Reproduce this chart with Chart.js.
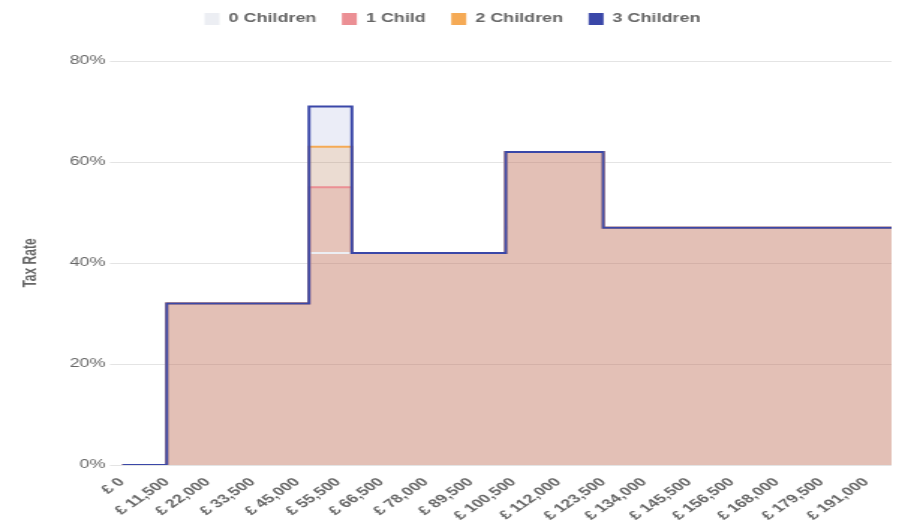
<!DOCTYPE html>
<html>
<head>
<meta charset="utf-8">
<script src="https://cdn.jsdelivr.net/npm/chart.js@4/dist/chart.umd.min.js"></script>
<style>
  html, body { margin: 0; padding: 0; background: #ffffff; overflow: hidden; }
  /* the chart is laid out on a 600px-wide canvas and shown stretched across 899px */
  #wrap { width: 600px; height: 529px; transform: scaleX(1.498333); transform-origin: 0 0; }
  #chart { display: block; }
</style>
</head>
<body>
<div id="wrap"><canvas id="chart" width="600" height="529"></canvas></div>
<script>
// Gross income at which each marginal rate starts (£)
const incomes = [0, 11500, 48000, 59000, 98500, 123500, 197500];

// Marginal tax rate (%) from each income above, by number of children
const rateNoChildren    = [0, 32, 42, 42, 62, 47, 47];
const rateOneChild      = [0, 32, 55, 42, 62, 47, 47];
const rateTwoChildren   = [0, 32, 63, 42, 62, 47, 47];
const rateThreeChildren = [0, 32, 71, 42, 62, 47, 47];

// Incomes labelled along the bottom axis
const incomeTicks = [0, 11500, 22000, 33500, 45000, 55500, 66500, 78000, 89500,
  100500, 112000, 123500, 134000, 145500, 156500, 168000, 179500, 191000];

// Rate axis ticks (%)
const rateTicks = [0, 20, 40, 60, 80];

const points = rates => incomes.map((x, i) => ({ x: x, y: rates[i] }));

// listed top-most first; the legend shows them reversed
const series = [
  { label: '3 Children', rates: rateThreeChildren, line: '#3a47a8', fill: 'rgba(63,81,181,0.10)' },
  { label: '2 Children', rates: rateTwoChildren,   line: '#f5aa55', fill: 'rgba(255,160,50,0.20)' },
  { label: '1 Child',    rates: rateOneChild,      line: '#eb8f94', fill: 'rgba(225,100,100,0.22)' },
  { label: '0 Children', rates: rateNoChildren,    line: '#eceef3', fill: 'rgba(190,180,175,0.08)' }
];

const textColor = '#666666';
const family = '"Liberation Sans", Arial, sans-serif';

// extra room between the legend and the plot
const legendGap = {
  id: 'legendGap',
  beforeInit(chart) {
    const fit = chart.legend.fit;
    chart.legend.fit = function () { fit.call(this); this.height += 26; };
  }
};

new Chart(document.getElementById('chart'), {
  type: 'line',
  data: {
    datasets: series.map(s => ({
      label: s.label,
      data: points(s.rates),
      stepped: true,
      borderColor: s.line,
      backgroundColor: s.fill,
      borderWidth: 2,
      pointRadius: 0,
      fill: 'origin'
    }))
  },
  plugins: [legendGap],
  options: {
    responsive: false,
    animation: false,
    layout: { padding: { left: 9, right: 5, top: -4, bottom: 0 } },
    plugins: {
      filler: { drawTime: 'beforeDatasetsDraw' },
      tooltip: { enabled: false },
      legend: {
        position: 'top',
        reverse: true,
        labels: {
          boxWidth: 10,
          boxHeight: 12,
          padding: 17,
          color: textColor,
          font: { family: family, size: 12, weight: 'bold' },
          generateLabels(chart) {
            const items = Chart.defaults.plugins.legend.labels.generateLabels(chart);
            items.forEach(it => {
              it.fillStyle = series[it.datasetIndex].line;
              it.strokeStyle = series[it.datasetIndex].line;
              it.lineWidth = 0;
            });
            return items;
          }
        }
      }
    },
    scales: {
      x: {
        type: 'linear',
        min: incomes[0],
        max: incomes[incomes.length - 1],
        grid: { display: false, drawTicks: false },
        border: { display: false },
        afterBuildTicks(axis) {
          axis.ticks = incomeTicks.map(v => ({ value: v }));
        },
        afterFit(axis) { axis.height = 64; },
        ticks: {
          autoSkip: false,
          minRotation: 45,
          maxRotation: 45,
          padding: 10,
          color: textColor,
          font: { family: family, size: 12, weight: 'bold' },
          callback: v => '£ ' + Number(v).toLocaleString('en-GB')
        }
      },
      y: {
        min: 0,
        max: 80,
        afterBuildTicks(axis) {
          axis.ticks = rateTicks.map(v => ({ value: v }));
        },
        afterFit(axis) { axis.width = 72.4; },
        grid: { color: '#e4e4e4', tickLength: 8 },
        border: { display: false },
        title: {
          display: true,
          text: 'Tax Rate',
          color: textColor,
          font: { family: family, size: 12, weight: 'bold' },
          padding: { top: 4, bottom: 4 }
        },
        ticks: {
          color: textColor,
          padding: 3,
          font: { family: family, size: 12 },
          callback: v => v + '%'
        }
      }
    }
  }
});
</script>
</body>
</html>
